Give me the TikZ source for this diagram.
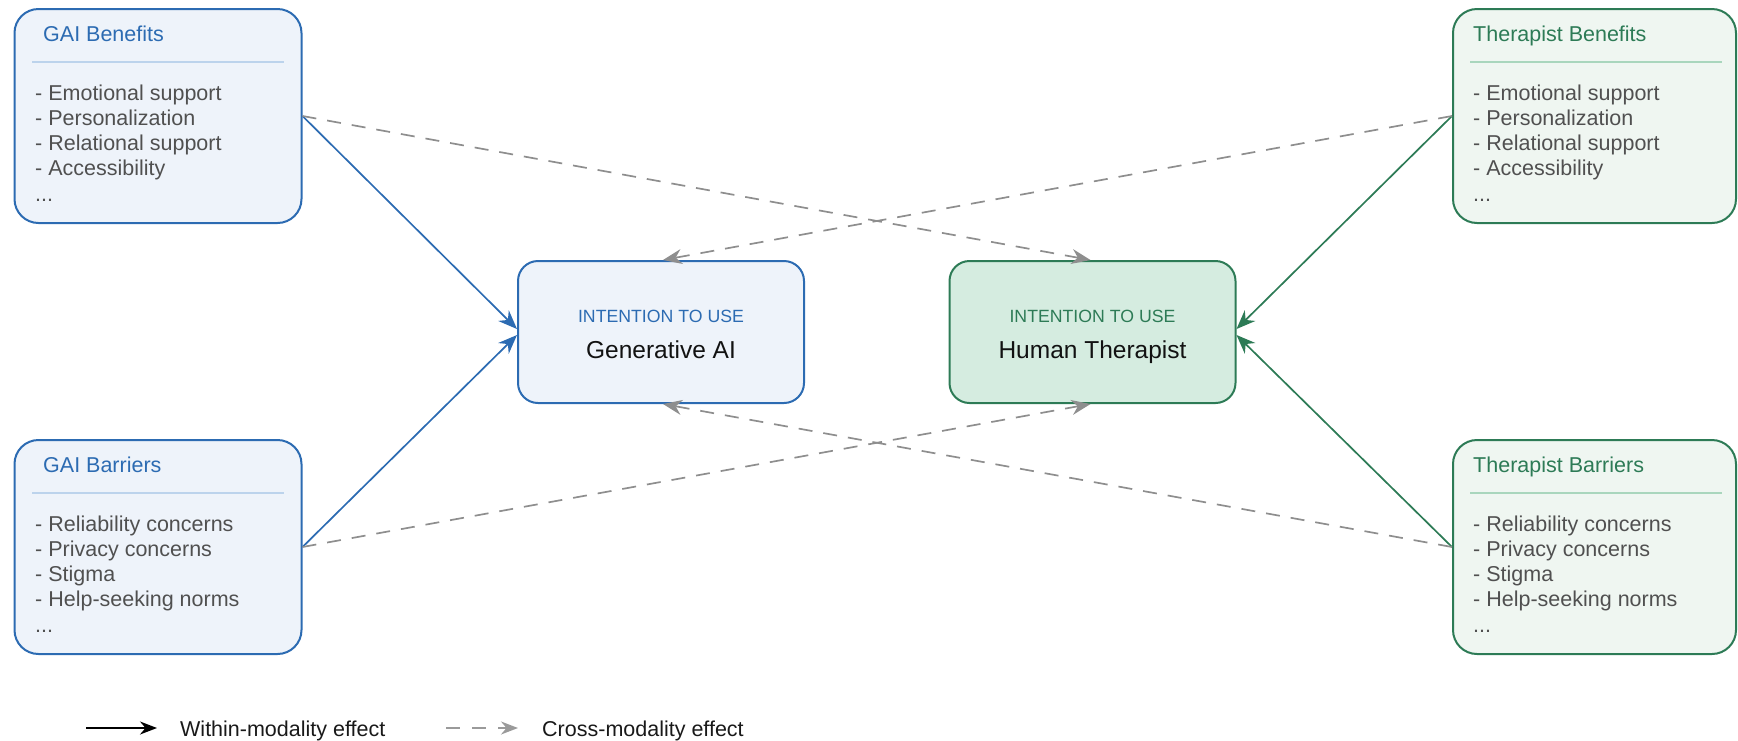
\documentclass[tikz,border=0pt]{standalone}
\usepackage{fontspec}
\setmainfont{Liberation Sans}
\usetikzlibrary{arrows.meta,calc}
\definecolor{gaiblue}{HTML}{2C6BB2}
\definecolor{gaifill}{HTML}{EEF3FA}
\definecolor{gaisep}{HTML}{BCD3EC}
\definecolor{htgreen}{HTML}{2D7B56}
\definecolor{htfill}{HTML}{D5ECE0}
\definecolor{tfill}{HTML}{EFF6F1}
\definecolor{tsep}{HTML}{A9D6BD}
\definecolor{itemgray}{HTML}{505050}
\definecolor{dashgray}{HTML}{8E8E8E}
\definecolor{leggray}{HTML}{9A9A9A}
\tikzset{
  sidebox/.style={draw, line width=2pt, rounded corners=24pt, minimum width=287pt, minimum height=214pt, inner sep=0pt},
  tsidebox/.style={sidebox, minimum width=283pt},
  centerbox/.style={draw, line width=2pt, rounded corners=20pt, minimum width=286pt, minimum height=142pt, inner sep=0pt},
  titletext/.style={font=\fontsize{21.5}{25}\selectfont, anchor=base west, inner sep=0pt},
  itemtext/.style={font=\fontsize{21.5}{25}\selectfont, text=itemgray, anchor=base west, inner sep=0pt},
  inttext/.style={font=\fontsize{17.7}{20}\selectfont, anchor=base, inner sep=0pt},
  maintext/.style={font=\fontsize{24.5}{28}\selectfont, text=black!93, anchor=base, inner sep=0pt},
  legtext/.style={font=\fontsize{21.5}{25}\selectfont, text=black!90, anchor=base west, inner sep=0pt},
  within/.style={line width=1.7pt, -{Stealth[length=19pt,width=15pt]}},
  cross/.style={line width=1.7pt, dashgray, dash pattern=on 14pt off 11pt, -{Stealth[length=19pt,width=15pt]}},
}
\newcommand{\itemlist}[4]{%
  \foreach \t [count=\i] in {#4}
    \node[itemtext] (#1-\i) at (#2,{#3+25.3*(\i-1)}) {\t};
  \node[itemtext] (#1-5) at (#2,{#3+25.3*4}) {...};
}
\begin{document}
\begin{tikzpicture}[x=1pt,y=-1pt]
\useasboundingbox (0,0) rectangle (1738,740);

% side boxes
\node[sidebox, gaiblue, fill=gaifill] (gb) at (158,116) {};
\node[sidebox, gaiblue, fill=gaifill] (gbar) at (158,547) {};
\node[tsidebox, htgreen, fill=tfill] (tb) at (1594.5,116) {};
\node[tsidebox, htgreen, fill=tfill] (tbar) at (1594.5,547) {};

% titles
\node[titletext, text=gaiblue] (gbt) at (43,41) {GAI Benefits};
\node[titletext, text=gaiblue] (gbart) at (43,472) {GAI Barriers};
\node[titletext, text=htgreen] (tbt) at (1473,41) {Therapist Benefits};
\node[titletext, text=htgreen] (tbart) at (1473,472) {Therapist Barriers};

% separators
\draw[gaisep, line width=1.5pt] (32,62) -- (284,62);
\draw[gaisep, line width=1.5pt] (32,493) -- (284,493);
\draw[tsep, line width=1.5pt] (1470,62) -- (1722,62);
\draw[tsep, line width=1.5pt] (1470,493) -- (1722,493);

% items
\itemlist{gbi}{35}{100}{- Emotional support, - Personalization, - Relational support, - Accessibility}
\itemlist{gbari}{35}{531}{- Reliability concerns, - Privacy concerns, - Stigma, - Help-seeking norms}
\itemlist{tbi}{1473}{100}{- Emotional support, - Personalization, - Relational support, - Accessibility}
\itemlist{tbari}{1473}{531}{- Reliability concerns, - Privacy concerns, - Stigma, - Help-seeking norms}

% centre boxes
\node[centerbox, gaiblue, fill=gaifill] (gai) at (661,332) {};
\node[centerbox, htgreen, fill=htfill] (ht) at (1092.5,332) {};
\node[inttext, text=gaiblue] (gaiint) at (661,322) {INTENTION TO USE};
\node[maintext] (gailab) at (661,358) {Generative AI};
\node[inttext, text=htgreen] (htint) at (1092.5,322) {INTENTION TO USE};
\node[maintext] (htlab) at (1092.5,358) {Human Therapist};

% within-modality arrows
\draw[within, gaiblue] (gb.east) -- ($(gai.west)+(0,-3)$);
\draw[within, gaiblue] (gbar.east) -- ($(gai.west)+(0,3)$);
\draw[within, htgreen] (tb.west) -- ($(ht.east)+(0,-3)$);
\draw[within, htgreen] (tbar.west) -- ($(ht.east)+(0,3)$);

% cross-modality arrows
\draw[cross] (gb.east) -- ($(ht.north)+(-2,0)$);
\draw[cross] (tb.west) -- ($(gai.north)+(2,0)$);
\draw[cross] (gbar.east) -- ($(ht.south)+(-2,0)$);
\draw[cross] (tbar.west) -- ($(gai.south)+(2,0)$);

% legend
\coordinate (la1) at (86,728);
\coordinate (lb1) at (157,728);
\coordinate (la2) at (446,728);
\coordinate (lb2) at (518,728);
\draw[line width=1.8pt, black, -{Stealth[length=17pt,width=13pt]}] (la1) -- (lb1);
\draw[line width=1.8pt, leggray, dash pattern=on 14pt off 12pt, -{Stealth[length=17pt,width=13pt]}] (la2) -- (lb2);
\node[legtext] (lt1) at (180,736) {Within-modality effect};
\node[legtext] (lt2) at (542,736) {Cross-modality effect};
\end{tikzpicture}
\end{document}
